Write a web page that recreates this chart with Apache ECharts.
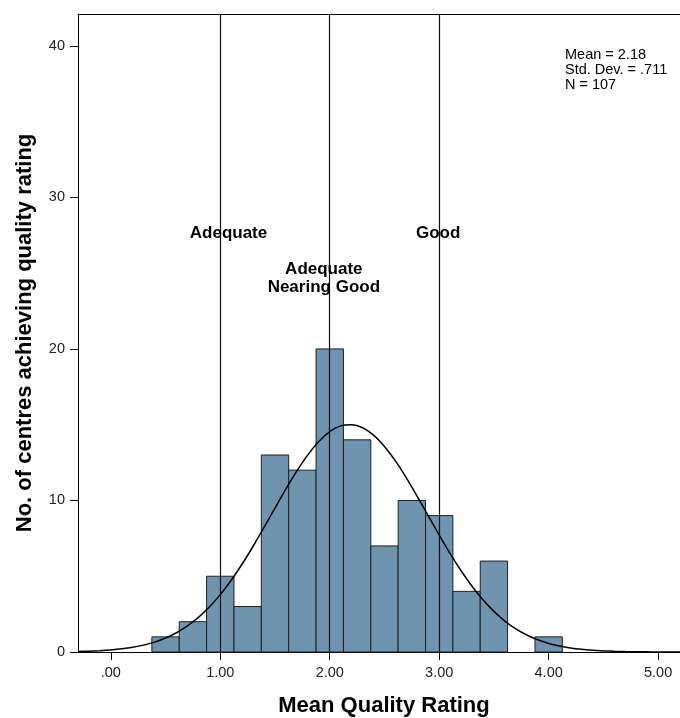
<!DOCTYPE html>
<html>
<head>
<meta charset="utf-8">
<script src="https://cdn.jsdelivr.net/npm/echarts@6/dist/echarts.min.js"></script>
<style>html,body{margin:0;padding:0;background:#fff}#c{width:680px;height:718px}</style>
</head>
<body>
<div id="c"></div>
<script>
// Histogram bins (start of each bin, width 0.25) and counts
const binStarts = [0.375, 0.625, 0.875, 1.125, 1.375, 1.625, 1.875, 2.125, 2.375, 2.625, 2.875, 3.125, 3.375, 3.625, 3.875];
const counts    = [1, 2, 5, 3, 13, 12, 20, 14, 7, 10, 9, 4, 6, 0, 1];
const binWidth = 0.25;
// Fitted normal curve
const curveX = [-0.3, -0.2, -0.1, 0.0, 0.1, 0.2, 0.3, 0.4, 0.5, 0.6, 0.7, 0.8, 0.9, 1.0, 1.1, 1.2, 1.3, 1.4, 1.5, 1.6, 1.7, 1.8, 1.9, 2.0,
                2.1, 2.2, 2.3, 2.4, 2.5, 2.6, 2.7, 2.8, 2.9, 3.0, 3.1, 3.2, 3.3, 3.4, 3.5, 3.6, 3.7, 3.8, 3.9, 4.0,
                4.1, 4.2, 4.3, 4.4, 4.5, 4.6, 4.7, 4.8, 4.9, 5.0, 5.1, 5.2];
const curveY = [0.034, 0.055, 0.088, 0.136, 0.208, 0.311, 0.455, 0.654, 0.920, 1.271, 1.720, 2.282, 2.970, 3.787, 4.735, 5.806, 6.978, 8.223, 9.500, 10.76, 11.95, 13.01, 13.89, 14.54,
                14.92, 15.00, 14.80, 14.31, 13.56, 12.61, 11.49, 10.26, 8.989, 7.718, 6.498, 5.364, 4.341, 3.443, 2.679, 2.043, 1.527, 1.120, 0.805, 0.567,
                0.392, 0.265, 0.176, 0.115, 0.073, 0.046, 0.028, 0.017, 0.010, 0.006, 0.003, 0.002];
// Reference lines and their labels
const refLines = [1, 2, 3];
const refLabels = [
  {x: 1.075, y: 27.6, text: 'Adequate'},
  {x: 1.946, y: 24.65, text: 'Adequate\nNearing Good'},
  {x: 2.99, y: 27.6, text: 'Good'}
];
const xTicks = [0, 1, 2, 3, 4, 5];
const yTicks = [0, 10, 20, 30, 40];
const statsText = 'Mean = 2.18\nStd. Dev. = .711\nN = 107';
const xTitle = 'Mean Quality Rating';
const yTitle = 'No. of centres achieving quality rating';

const FONT = '"Liberation Sans", Arial, sans-serif';
const chart = echarts.init(document.getElementById('c'), null, {renderer: 'canvas'});

const histData = binStarts.map((s, i) => [s, s + binWidth, counts[i]]).filter(d => d[2] > 0);

const X_MIN = -0.3, X_MAX = 5.2;

chart.setOption({
  animation: false,
  backgroundColor: '#fff',
  grid: {left: 78, top: 14, right: 0, bottom: 66, show: false},
  xAxis: [{
    type: 'value', min: X_MIN, max: X_MAX,
    axisLine: {show: true, onZero: false, lineStyle: {color: '#000', width: 1}},
    axisTick: {show: true, length: 8, lineStyle: {color: '#000'}, customValues: xTicks},
    axisLabel: {fontFamily: FONT, fontSize: 14.5, color: '#222', margin: 13, customValues: xTicks,
      formatter: v => v.toFixed(2).replace(/^0/, '')},
    splitLine: {show: false}
  }, {
    type: 'value', position: 'top', min: X_MIN, max: X_MAX,
    axisLine: {show: true, onZero: false, lineStyle: {color: '#000', width: 1}},
    axisTick: {show: false}, axisLabel: {show: false}, splitLine: {show: false}
  }],
  yAxis: {
    type: 'value', min: 0, max: 42.1,
    axisLine: {show: true, onZero: false, lineStyle: {color: '#000', width: 1}},
    axisTick: {show: true, length: 8, lineStyle: {color: '#000'}, customValues: yTicks},
    axisLabel: {fontFamily: FONT, fontSize: 14.5, color: '#222', margin: 13, customValues: yTicks},
    splitLine: {show: false}
  },
  graphic: [
    {type: 'text', left: 565, top: 47,
     style: {text: statsText, fontFamily: FONT, fontSize: 14.5, lineHeight: 15, fill: '#000'}},
    {type: 'text', x: 384, y: 706,
     style: {text: xTitle, fontFamily: FONT, fontSize: 22, fontWeight: 'bold', fill: '#000', align: 'center', verticalAlign: 'middle'}},
    {type: 'text', x: 25, y: 333, rotation: Math.PI / 2,
     style: {text: yTitle, fontFamily: FONT, fontSize: 22, fontWeight: 'bold', fill: '#000', align: 'center', verticalAlign: 'middle'}}
  ],
  series: [
    {
      type: 'custom', name: 'hist', z: 2,
      encode: {x: [0, 1], y: 2},
      data: histData,
      renderItem: (params, api) => {
        const p0 = api.coord([api.value(0), api.value(2)]);
        const p1 = api.coord([api.value(1), 0]);
        return {type: 'rect', shape: {x: p0[0], y: p0[1], width: p1[0] - p0[0], height: p1[1] - p0[1]},
          style: {fill: '#6f94b0', stroke: '#1e1e1e', lineWidth: 1}};
      }
    },
    {
      type: 'line', name: 'normal', z: 4, smooth: 0.3, showSymbol: false, symbol: 'none',
      data: curveX.map((x, i) => [x, curveY[i]]),
      lineStyle: {color: '#000', width: 1.5},
      markLine: {
        silent: true, symbol: 'none', label: {show: false},
        lineStyle: {color: '#111', width: 1.2, type: 'solid'},
        data: refLines.map(v => ({xAxis: v}))
      }
    },
    {
      type: 'scatter', name: 'labels', z: 5, symbolSize: 0, silent: true,
      itemStyle: {opacity: 1},
      data: refLabels.map(d => ({value: [d.x, d.y], name: d.text})),
      label: {show: true, position: 'inside', formatter: p => p.name, opacity: 1,
        fontFamily: FONT, fontSize: 17, fontWeight: 'bold', color: '#000', lineHeight: 18, align: 'center',
        textBorderWidth: 0}
    }
  ]
});
</script>
</body>
</html>
